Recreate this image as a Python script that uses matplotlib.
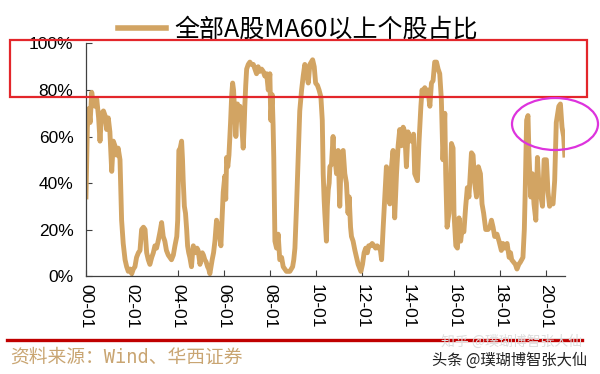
import matplotlib
matplotlib.use('Agg')
import matplotlib.pyplot as plt
from matplotlib.patches import Rectangle, Ellipse
from matplotlib.lines import Line2D

plt.rcParams['font.family'] = ['Liberation Sans', 'Noto Sans CJK SC', 'DejaVu Sans']

# share of A-share stocks above MA60 (%)
years = [2000.00, 2000.03, 2000.06, 2000.12, 2000.18, 2000.25, 2000.32, 2000.39, 2000.47, 2000.55,
         2000.61, 2000.68, 2000.76, 2000.83, 2000.90, 2000.97, 2001.04, 2001.12, 2001.19, 2001.26,
         2001.33, 2001.40, 2001.48, 2001.55, 2001.62, 2001.70, 2001.77, 2001.84, 2001.92, 2001.99,
         2002.06, 2002.13, 2002.20, 2002.28, 2002.35, 2002.42, 2002.50, 2002.57, 2002.64, 2002.71,
         2002.78, 2002.86, 2002.93, 2003.00, 2003.07, 2003.14, 2003.22, 2003.29, 2003.36, 2003.43,
         2003.50, 2003.58, 2003.65, 2003.72, 2003.80, 2003.87, 2003.95, 2003.99, 2004.04, 2004.10,
         2004.16, 2004.20, 2004.23, 2004.28, 2004.33, 2004.38, 2004.42, 2004.47, 2004.52, 2004.59,
         2004.63, 2004.67, 2004.72, 2004.77, 2004.83, 2004.88, 2004.96, 2005.01, 2005.06, 2005.11,
         2005.17, 2005.23, 2005.29, 2005.34, 2005.39, 2005.44, 2005.49, 2005.55, 2005.61, 2005.68,
         2005.73, 2005.78, 2005.83, 2005.87, 2005.92, 2005.97, 2006.04, 2006.08, 2006.12, 2006.17,
         2006.22, 2006.26, 2006.29, 2006.34, 2006.38, 2006.42, 2006.45, 2006.49, 2006.52, 2006.56,
         2006.59, 2006.64, 2006.70, 2006.74, 2006.77, 2006.81, 2006.84, 2006.88, 2006.91, 2006.95,
         2006.99, 2007.06, 2007.13, 2007.20, 2007.28, 2007.35, 2007.42, 2007.49, 2007.56, 2007.64,
         2007.71, 2007.78, 2007.86, 2007.93, 2008.00, 2008.04, 2008.10, 2008.14, 2008.17, 2008.20,
         2008.22, 2008.29, 2008.36, 2008.43, 2008.51, 2008.58, 2008.65, 2008.72, 2008.80, 2008.87,
         2008.93, 2008.99, 2009.04, 2009.09, 2009.16, 2009.23, 2009.30, 2009.38, 2009.45, 2009.52,
         2009.56, 2009.60, 2009.67, 2009.74, 2009.80, 2009.86, 2009.93, 2009.99, 2010.07, 2010.14,
         2010.22, 2010.28, 2010.32, 2010.36, 2010.39, 2010.46, 2010.50, 2010.54, 2010.58, 2010.61,
         2010.68, 2010.75, 2010.79, 2010.83, 2010.90, 2010.97, 2011.04, 2011.11, 2011.19, 2011.26,
         2011.33, 2011.40, 2011.45, 2011.51, 2011.55, 2011.62, 2011.70, 2011.77, 2011.84, 2011.92,
         2011.96, 2012.03, 2012.10, 2012.17, 2012.24, 2012.30, 2012.38, 2012.45, 2012.53, 2012.60,
         2012.67, 2012.75, 2012.81, 2012.86, 2012.93, 2013.00, 2013.07, 2013.14, 2013.22, 2013.29,
         2013.36, 2013.43, 2013.51, 2013.58, 2013.65, 2013.72, 2013.80, 2013.87, 2013.94, 2014.01,
         2014.08, 2014.13, 2014.20, 2014.25, 2014.30, 2014.38, 2014.42, 2014.49, 2014.57, 2014.62,
         2014.67, 2014.74, 2014.80, 2014.88, 2014.96, 2015.03, 2015.10, 2015.17, 2015.25, 2015.32,
         2015.39, 2015.46, 2015.53, 2015.61, 2015.65, 2015.71, 2015.79, 2015.85, 2015.90, 2015.97,
         2016.01, 2016.09, 2016.16, 2016.23, 2016.30, 2016.37, 2016.44, 2016.52, 2016.59, 2016.66,
         2016.77, 2016.84, 2016.91, 2016.99, 2017.07, 2017.16, 2017.23, 2017.30, 2017.39, 2017.49,
         2017.57, 2017.64, 2017.71, 2017.78, 2017.88, 2017.97, 2018.07, 2018.14, 2018.22, 2018.32,
         2018.41, 2018.47, 2018.52, 2018.60, 2018.68, 2018.75, 2018.83, 2018.90, 2019.01, 2019.07,
         2019.11, 2019.17, 2019.23, 2019.27, 2019.35, 2019.42, 2019.49, 2019.57, 2019.64, 2019.71,
         2019.78, 2019.86, 2019.93, 2020.03, 2020.10, 2020.17, 2020.24, 2020.32, 2020.39, 2020.46,
         2020.57, 2020.64, 2020.71, 2020.78, 2020.83]
pct = [34, 50, 64, 72, 66, 79, 74, 73, 76, 68,
       58, 70, 71, 69, 63, 68, 62, 45, 58, 56,
       52, 55, 50, 24, 14, 7, 4, 2, 3, 1,
       3, 4, 8, 10, 11, 20, 21, 20, 10, 7,
       5, 8, 10, 13, 12, 15, 19, 23, 17, 15,
       11, 9, 8, 7, 9, 13, 17, 24, 54, 55,
       58, 50, 41, 30, 27, 20, 13, 10, 8, 4,
       9, 13, 11, 10, 12, 11, 5, 8, 10, 9,
       7, 6, 4, 3, 1, 4, 7, 10, 15, 24,
       22, 21, 16, 13, 25, 36, 43, 33, 51, 47,
       52, 60, 66, 78, 83, 80, 74, 68, 60, 68,
       74, 70, 73, 69, 66, 60, 55, 64, 73, 82,
       89, 91, 92, 91, 91, 89, 87, 90, 88, 89,
       88, 86, 87, 80, 87, 67, 78, 65, 51, 30,
       15, 12, 18, 7, 8, 4, 3, 2, 2, 2,
       3, 4, 7, 12, 30, 51, 71, 80, 86, 91,
       89, 87, 83, 91, 92, 93, 90, 83, 82, 80,
       77, 67, 44, 33, 27, 15, 30, 37, 40, 47,
       48, 60, 50, 51, 44, 54, 30, 53, 54, 44,
       40, 27, 34, 21, 17, 15, 11, 8, 5, 3,
       2, 5, 10, 12, 10, 13, 13, 14, 13, 12,
       13, 12, 11, 7, 21, 34, 47, 37, 31, 47,
       54, 25, 44, 56, 63, 56, 64, 62, 47, 62,
       58, 60, 58, 61, 44, 42, 41, 58, 73, 80,
       78, 81, 78, 80, 73, 83, 84, 92, 92, 89,
       87, 76, 50, 70, 44, 21, 27, 40, 57, 55,
       27, 13, 12, 25, 15, 21, 19, 30, 38, 34,
       53, 52, 40, 34, 47, 44, 31, 27, 20, 20,
       21, 24, 21, 17, 18, 15, 11, 14, 12, 14,
       8, 10, 7, 6, 5, 3, 5, 6, 8, 20,
       37, 67, 69, 53, 34, 44, 31, 24, 51, 38,
       35, 30, 50, 50, 36, 30, 32, 31, 41, 66,
       73, 74, 64, 60, 52]

tick_years = [2000, 2002, 2004, 2006, 2008, 2010, 2012, 2014, 2016, 2018, 2020]
tick_labels = ['00-01', '02-01', '04-01', '06-01', '08-01', '10-01',
               '12-01', '14-01', '16-01', '18-01', '20-01']
y_ticks = [0, 20, 40, 60, 80, 100]
y_labels = ['0%', '20%', '40%', '60%', '80%', '100%']

line_color = '#D2A463'

fig = plt.figure(figsize=(6, 3.74), dpi=100)
ax = fig.add_axes([0.1433, 0.262, 0.798, 0.6217])

ax.plot(years, pct, color=line_color, lw=3.5, solid_joinstyle='round',
        label='全部A股MA60以上个股占比')

ax.set_xlim(2000, 2020.83)
ax.set_ylim(0, 100)
ax.set_xticks(tick_years)
ax.set_xticklabels(tick_labels, rotation=-90, fontsize=12.5)
ax.set_yticks(y_ticks)
ax.set_yticklabels(y_labels, fontsize=12.5)
ax.tick_params(direction='in', length=4, width=0.8, color='#404040', pad=6)
ax.tick_params(axis='y', pad=9)
for s in ['top', 'right']:
    ax.spines[s].set_visible(False)
for s in ['left', 'bottom']:
    ax.spines[s].set_color('#404040')
    ax.spines[s].set_linewidth(0.9)

leg = ax.legend(loc='center', bbox_to_anchor=(0.443, 1.058), frameon=False,
                handlelength=1.9, handletextpad=0.35, borderpad=0, borderaxespad=0,
                prop={'family': ['Noto Sans CJK SC', 'DejaVu Sans'], 'size': 18})
for h in leg.get_lines():
    h.set_linewidth(4)

# annotations drawn on top of the chart
fig.patches.append(Rectangle((10 / 600, 1 - 97 / 374), 577 / 600, 57 / 374,
                             transform=fig.transFigure, fill=False,
                             edgecolor='#E3262B', lw=1.6))
fig.patches.append(Ellipse((555 / 600, 1 - 124 / 374), 86 / 600, 52 / 374,
                           transform=fig.transFigure, fill=False,
                           edgecolor='#DD33DD', lw=1.6))
fig.lines.append(Line2D([7 / 600, 582 / 600], [1 - 340 / 374, 1 - 340 / 374],
                        transform=fig.transFigure, color='#C00000', lw=2.4))

fig.text(10 / 600, 1 - 357 / 374, '资料来源：Wind、华西证券', fontsize=13.5,
         color='#C9A572', va='center', ha='left',
         family=['DejaVu Sans Mono', 'Noto Sans CJK SC'])
fig.text(582 / 600, 1 - 342 / 374, '知乎 @璞瑚博智张大仙', fontsize=10,
         color='#DDDDDD', va='center', ha='right',
         family=['Noto Sans CJK SC', 'DejaVu Sans'])
fig.text(587 / 600, 1 - 360 / 374, '头条 @璞瑚博智张大仙', fontsize=11,
         color='#222222', va='center', ha='right',
         family=['Noto Sans CJK SC', 'DejaVu Sans'])

fig.savefig('out.png', dpi=100)
